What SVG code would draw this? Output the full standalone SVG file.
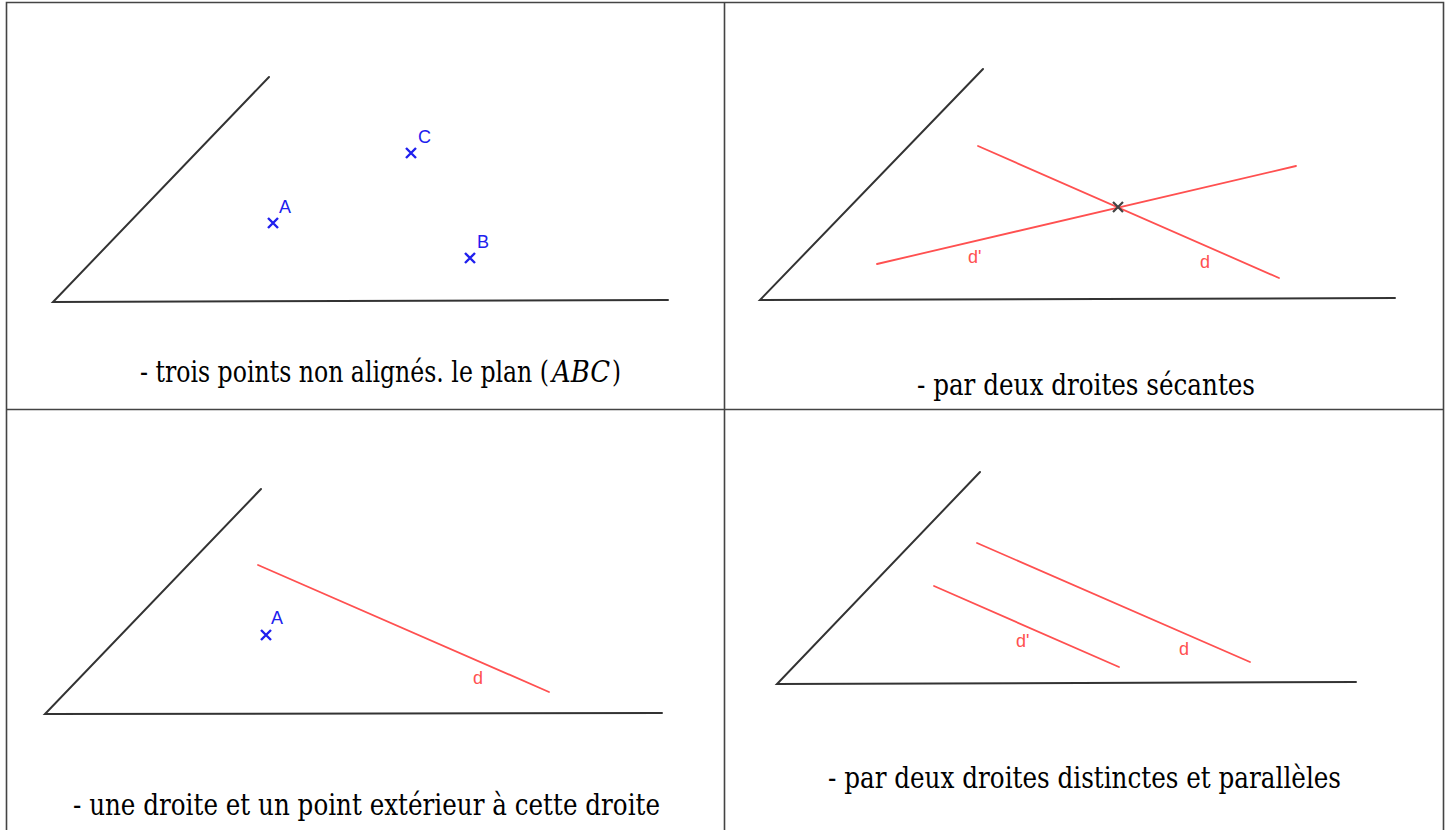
<svg xmlns="http://www.w3.org/2000/svg" width="1450" height="830" viewBox="0 0 1450 830">
<style>
.border{stroke:#444;stroke-width:1.6;fill:none}
.black{stroke:#333;stroke-width:2;fill:none;stroke-linecap:round}
.red{stroke:#ff5050;stroke-width:1.8;fill:none;stroke-linecap:round}
.pt{stroke:#2020ee;stroke-width:2.4;fill:none}
.ptk{stroke:#444;stroke-width:2.2;fill:none}
.lb{font-family:'Liberation Sans',Arial,sans-serif;font-size:18px;fill:#2020ee}
.lr{font-family:'Liberation Sans',Arial,sans-serif;font-size:18px;fill:#ff5050}
.cap{font-family:'DejaVu Serif','Liberation Serif',serif;font-size:29px;fill:#000}
</style>
<rect width="1450" height="830" fill="#fff"/>
<g id="table">
<path class="border" d="M6.5 832 V2.5 H1443.5 V832 M724.5 2.5 V832 M6.5 409.5 H1443.5"/>
</g>
<g id="cell1">
<path class="black" d="M269 77 L53 302 L668 300"/>
<path class="pt" d="M268 218 l10 10 M278 218 l-10 10"/>
<path class="pt" d="M406 148 l10 10 M416 148 l-10 10"/>
<path class="pt" d="M465 253 l10 10 M475 253 l-10 10"/>
<text class="lb" x="279" y="213">A</text>
<text class="lb" x="418" y="143">C</text>
<text class="lb" x="477" y="248">B</text>
<text class="cap" text-anchor="end" x="549" y="382" textLength="409" lengthAdjust="spacingAndGlyphs">- trois points non alignés. le plan (</text>
<text class="cap" font-style="italic" font-size="27" text-anchor="middle" x="581" y="382" textLength="58" lengthAdjust="spacingAndGlyphs">ABC</text>
<text class="cap" x="612" y="382" textLength="9" lengthAdjust="spacingAndGlyphs">)</text>
</g>
<g id="cell2">
<path class="black" d="M983 69 L760 300 L1395 298"/>
<path class="red" d="M978 146 L1279 278"/>
<path class="red" d="M877 264 L1296 166"/>
<path class="ptk" d="M1113 202 l10 10 M1123 202 l-10 10"/>
<text class="lr" x="968" y="263">d'</text>
<text class="lr" x="1200" y="268">d</text>
<text class="cap" x="917" y="395" textLength="338" lengthAdjust="spacingAndGlyphs">- par deux droites sécantes</text>
</g>
<g id="cell3">
<path class="black" d="M261 489 L45 714 L662 713"/>
<path class="red" d="M258 565 L549 692"/>
<path class="pt" d="M261 630 l10 10 M271 630 l-10 10"/>
<text class="lb" x="271" y="624">A</text>
<text class="lr" x="473" y="684">d</text>
<text class="cap" x="73" y="815" textLength="587" lengthAdjust="spacingAndGlyphs">- une droite et un point extérieur à cette droite</text>
</g>
<g id="cell4">
<path class="black" d="M980 472 L777 684 L1356 682"/>
<path class="red" d="M977 543 L1250 662"/>
<path class="red" d="M934 586 L1119 667"/>
<text class="lr" x="1016" y="647">d'</text>
<text class="lr" x="1179" y="655">d</text>
<text class="cap" x="828" y="788" textLength="513" lengthAdjust="spacingAndGlyphs">- par deux droites distinctes et parallèles</text>
</g>
</svg>
